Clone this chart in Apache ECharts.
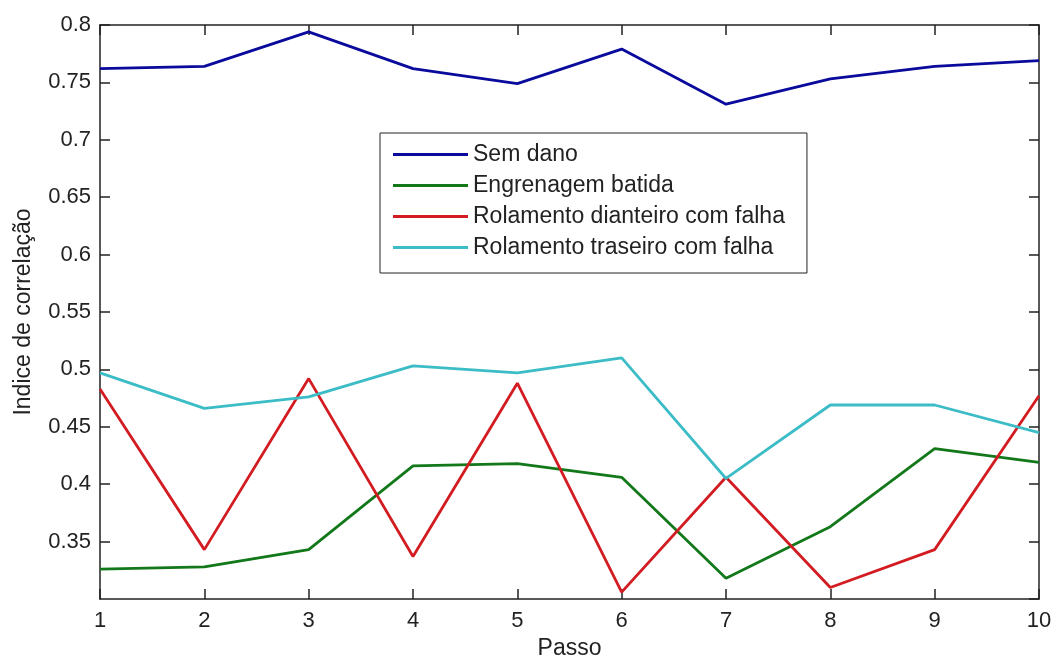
<!DOCTYPE html>
<html>
<head>
<meta charset="utf-8">
<script src="https://cdn.jsdelivr.net/npm/echarts@6/dist/echarts.min.js"></script>
<style>
  html, body { margin: 0; padding: 0; background: #fff; }
  #chart { width: 1053px; height: 659px; }
</style>
</head>
<body>
<div id="chart"></div>
<script>
// passos (eixo x)
const steps = [1, 2, 3, 4, 5, 6, 7, 8, 9, 10];
const semDano = [0.762, 0.764, 0.794, 0.762, 0.749, 0.779, 0.731, 0.753, 0.764, 0.769];
const engrenagem = [0.326, 0.328, 0.343, 0.416, 0.418, 0.406, 0.318, 0.363, 0.431, 0.419];
const rolDianteiro = [0.483, 0.343, 0.492, 0.337, 0.488, 0.306, 0.406, 0.310, 0.343, 0.477];
const rolTraseiro = [0.497, 0.466, 0.476, 0.503, 0.497, 0.510, 0.405, 0.469, 0.469, 0.445];
const yTicks = [0.35, 0.4, 0.45, 0.5, 0.55, 0.6, 0.65, 0.7, 0.75, 0.8];

const font = "Liberation Sans";
const txt = "#222";

function pairs(vals) {
  return steps.map((s, i) => [s, vals[i]]);
}

function mkSeries(name, vals, color) {
  return {
    name: name,
    type: "line",
    data: pairs(vals),
    showSymbol: false,
    symbol: "none",
    lineStyle: { color: color, width: 2.8 },
    itemStyle: { color: color },
    animation: false
  };
}

const chart = echarts.init(document.getElementById("chart"));
chart.setOption({
  backgroundColor: "#fff",
  textStyle: { fontFamily: font },
  grid: { left: 100, right: 14, top: 25, bottom: 60, containLabel: false, outerBoundsMode: "none" },
  legend: {
    orient: "vertical",
    left: 380,
    top: 133,
    padding: [10, 22, 14, 13],
    itemGap: 8,
    itemWidth: 75,
    itemHeight: 3,
    icon: "rect",
    borderColor: "#222",
    borderWidth: 1,
    backgroundColor: "#fff",
    textStyle: { fontSize: 23, color: txt, fontFamily: font },
    data: ["Sem dano", "Engrenagem batida", "Rolamento dianteiro com falha", "Rolamento traseiro com falha"]
  },
  xAxis: [
    {
      type: "value",
      min: 1,
      max: 10,
      interval: 1,
      name: "Passo",
      nameLocation: "middle",
      nameGap: 38,
      nameTextStyle: { fontSize: 23, color: txt, fontFamily: font },
      axisLine: { lineStyle: { color: "#222", width: 1.5 } },
      axisTick: { inside: true, length: 10, lineStyle: { color: "#222", width: 1.5 } },
      axisLabel: { fontSize: 22, color: txt, margin: 11, fontFamily: font },
      splitLine: { show: false }
    },
    {
      type: "value",
      position: "top",
      min: 1,
      max: 10,
      interval: 1,
      axisLine: { lineStyle: { color: "#222", width: 1.5 } },
      axisTick: { inside: true, length: 10, lineStyle: { color: "#222", width: 1.5 } },
      axisLabel: { show: false },
      splitLine: { show: false }
    }
  ],
  yAxis: [
    {
      type: "value",
      min: 0.3,
      max: 0.8,
      interval: 0.05,
      name: "Indice de correlação",
      nameLocation: "middle",
      nameGap: 65,
      nameRotate: 90,
      nameTextStyle: { fontSize: 23, color: txt, fontFamily: font },
      axisLine: { show: true, lineStyle: { color: "#222", width: 1.5 } },
      axisTick: { inside: true, length: 10, lineStyle: { color: "#222", width: 1.5 } },
      axisLabel: {
        fontSize: 22,
        color: txt,
        margin: 9,
        fontFamily: font,
        showMinLabel: false,
        formatter: function (v) {
          const t = yTicks.find(k => Math.abs(k - v) < 1e-6);
          return t === undefined ? "" : String(t);
        }
      },
      splitLine: { show: false }
    },
    {
      type: "value",
      position: "right",
      min: 0.3,
      max: 0.8,
      interval: 0.05,
      axisLine: { show: true, lineStyle: { color: "#222", width: 1.5 } },
      axisTick: { inside: true, length: 10, lineStyle: { color: "#222", width: 1.5 } },
      axisLabel: { show: false },
      splitLine: { show: false }
    }
  ],
  series: [
    mkSeries("Sem dano", semDano, "#0a0a9c"),
    mkSeries("Engrenagem batida", engrenagem, "#12781a"),
    mkSeries("Rolamento dianteiro com falha", rolDianteiro, "#d21c22"),
    mkSeries("Rolamento traseiro com falha", rolTraseiro, "#3cbcc6")
  ]
});
</script>
</body>
</html>
